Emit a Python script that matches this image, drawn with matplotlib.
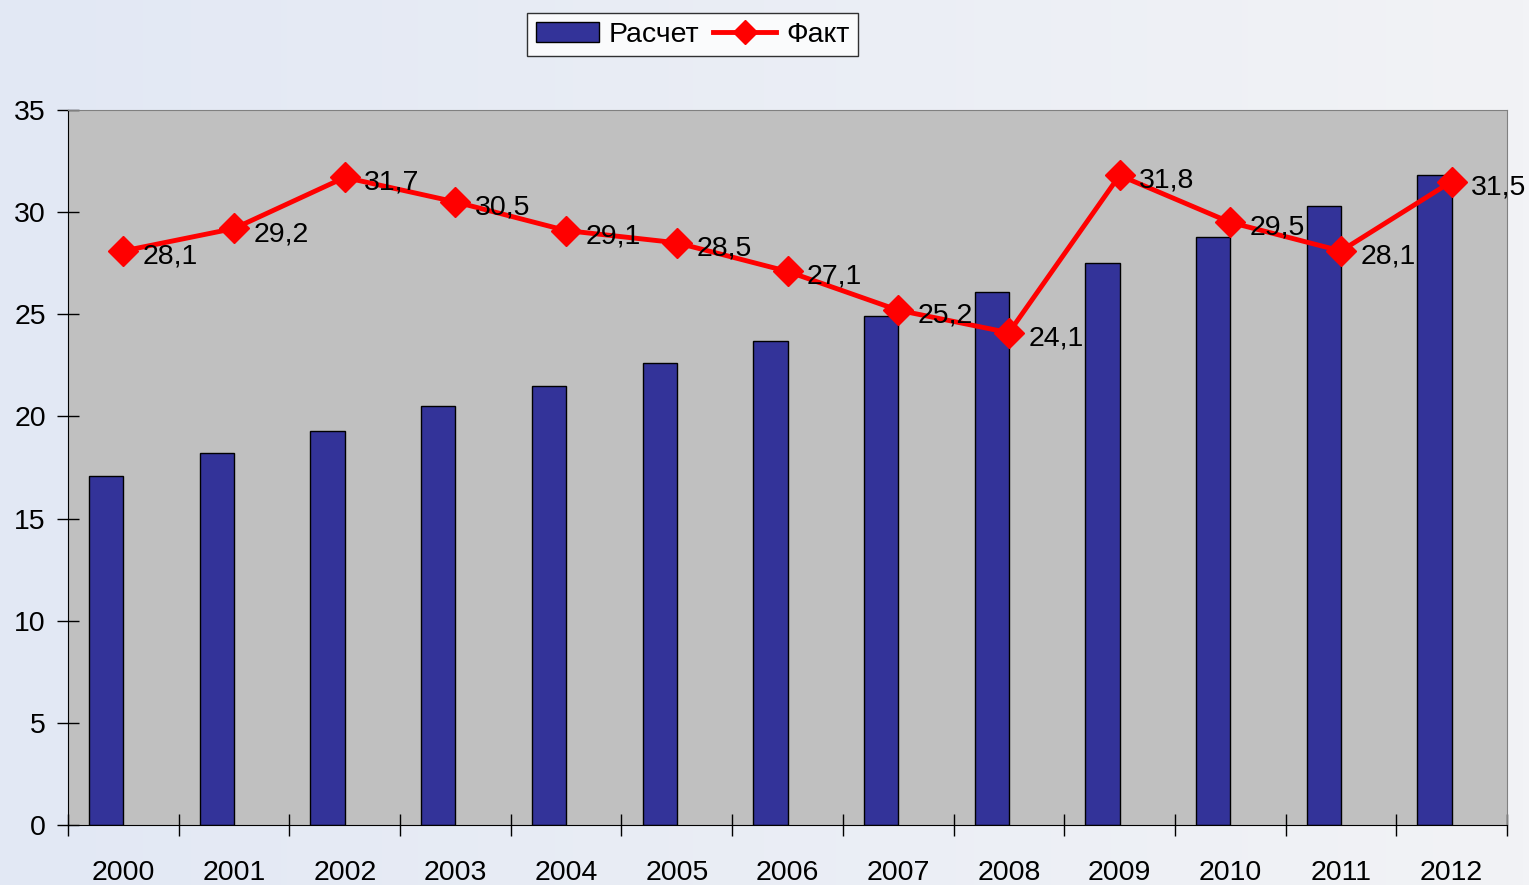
import numpy as np
import matplotlib.pyplot as plt
from matplotlib.colors import LinearSegmentedColormap

plt.rcParams['font.family'] = ['Liberation Sans', 'DejaVu Sans']

years = ['2000', '2001', '2002', '2003', '2004', '2005', '2006',
         '2007', '2008', '2009', '2010', '2011', '2012']
raschet = [17.1, 18.2, 19.3, 20.5, 21.5, 22.6, 23.7, 24.9, 26.1, 27.5, 28.8, 30.3, 31.8]
fakt = [28.1, 29.2, 31.7, 30.5, 29.1, 28.5, 27.1, 25.2, 24.1, 31.8, 29.5, 28.1, 31.5]
fakt_labels = ['28,1', '29,2', '31,7', '30,5', '29,1', '28,5', '27,1',
               '25,2', '24,1', '31,8', '29,5', '28,1', '31,5']

fig = plt.figure(figsize=(15.29, 8.85), dpi=100)

# light bluish gradient background
bg = fig.add_axes([0, 0, 1, 1], zorder=-10)
grad = np.linspace(0, 1, 256).reshape(1, -1)
cmap = LinearSegmentedColormap.from_list('bg', ['#e2e8f4', '#f2f3f6'])
bg.imshow(grad, aspect='auto', cmap=cmap, extent=[0, 1, 0, 1])
bg.axis('off')

ax = fig.add_axes([0.0445, 0.0678, 0.9411, 0.8079])
ax.set_facecolor('#c0c0c0')

x = np.arange(len(years))
w = 0.31
bars = ax.bar(x - w / 2, raschet, width=w, color='#333399', edgecolor='black',
              linewidth=1, label='Расчет', zorder=2)
line, = ax.plot(x, fakt, color='#ff0000', linewidth=3.5, marker='D', markersize=15,
                label='Факт', zorder=3)

for xi, v, s in zip(x, fakt, fakt_labels):
    ax.annotate(s, (xi, v), xytext=(14, -4), textcoords='offset points',
                ha='left', va='center', fontsize=20.5, zorder=4,
                annotation_clip=False)

ax.set_xlim(-0.5, len(years) - 0.5)
ax.set_ylim(0, 35)
ax.set_yticks(range(0, 36, 5))
ax.set_xticks(np.arange(-0.5, len(years), 1))
ax.set_xticklabels([])
ax.set_xticks(x, minor=True)
ax.set_xticklabels(years, minor=True)
ax.tick_params(axis='x', which='minor', length=0, pad=25, labelsize=20.5)
ax.tick_params(axis='x', which='major', direction='inout', length=16, width=1)
ax.tick_params(axis='y', direction='inout', length=16, width=1, labelsize=20.5, pad=8)

for side in ['top', 'right']:
    ax.spines[side].set_color('#808080')
for side in ['left', 'bottom']:
    ax.spines[side].set_color('black')

leg = fig.legend([bars, line], ['Расчет', 'Факт'], loc='center',
                 bbox_to_anchor=(0.453, 0.961), ncol=2,
                 fontsize=20.5, frameon=True, fancybox=False, edgecolor='black',
                 handlelength=2.2, columnspacing=0.5, handletextpad=0.35,
                 borderpad=0.3, markerscale=0.8)
leg.get_frame().set_linewidth(1)

fig.savefig('out.png', dpi=100)
